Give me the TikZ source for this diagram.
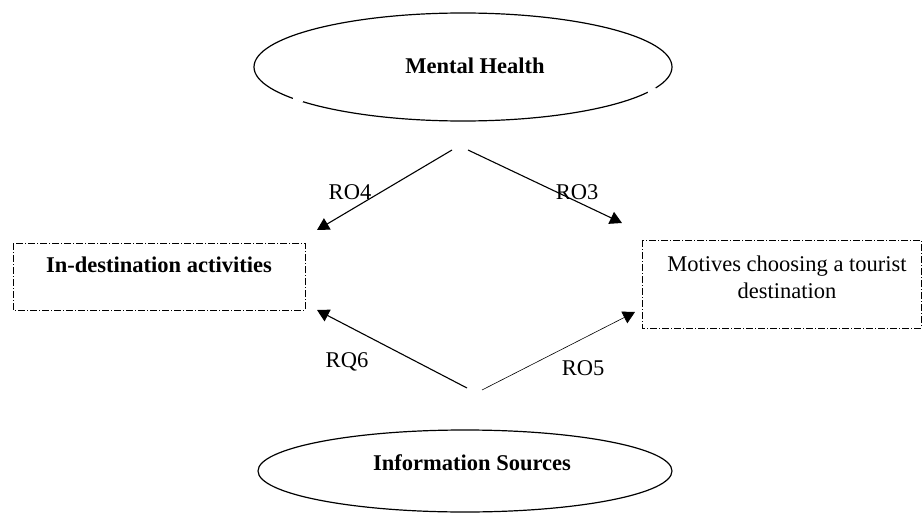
\documentclass[tikz,border=0pt]{standalone}
\usepackage{fontspec}
\setmainfont{Liberation Serif}
\usetikzlibrary{arrows.meta,shapes.geometric,calc}
\tikzset{
  bigfont/.style={font=\fontsize{22.5}{27}\selectfont},
  boldfont/.style={font=\fontsize{22.5}{27}\selectfont\bfseries},
  oval/.style={draw, ellipse, line width=1.2pt, minimum width=418pt, minimum height=108pt, inner sep=0pt},
  dbox/.style={draw, line width=0.7pt, dash pattern=on 7pt off 2pt on 1pt off 2pt, inner sep=0pt},
  arr/.style={line width=1.1pt, -{Triangle[width=13pt,length=12pt]}},
  gap/.style={white, line width=4pt},
  lbl/.style={bigfont}
}
\begin{document}
\begin{tikzpicture}[x=1pt,y=-1pt]
\useasboundingbox (0,0) rectangle (922,514);
\node[oval] (mh) at (463,67) {};
\node[boldfont] (mht) at (475,66) {Mental Health};
\node[oval, minimum height=82pt, minimum width=414pt] (is) at (465,471) {};
\node[boldfont] (ist) at (472,463) {Information Sources};
\draw[gap] ($(mh.center)+(-170,31.5)$) -- ++(10,2);
\draw[gap] ($(mh.center)+(185,25.5)$) -- ++(8,-3.5);
\draw[dbox] (13,243) rectangle (305,310);
\node[boldfont] (ida) at (159,265) {In-destination activities};
\draw[dbox] (642,240) rectangle (921,328);
\node[lbl, align=center] (mot) at (787,277) {Motives choosing a tourist\\destination};
\coordinate (a1s) at (452,150); \coordinate (a1e) at (317,230);
\coordinate (a2s) at (468,150); \coordinate (a2e) at (622,223);
\coordinate (a3s) at (467,388); \coordinate (a3e) at (317,310);
\coordinate (a4s) at (482,390); \coordinate (a4e) at (635,312);
\draw[arr] (a1s) -- (a1e);
\draw[arr] (a2s) -- (a2e);
\draw[arr] (a3s) -- (a3e);
\draw[arr, line width=0.6pt] (a4s) -- (a4e);
\node[lbl] (r4) at (350,192) {RO4};
\node[lbl] (r3) at (577,192) {RO3};
\node[lbl] (r6) at (347,362) {RQ6};
\node[lbl] (r5) at (583,368) {RO5};
\end{tikzpicture}
\end{document}
